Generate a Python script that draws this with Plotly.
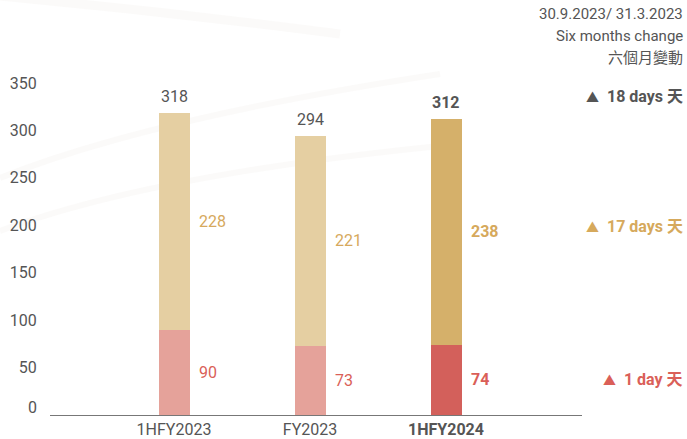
import plotly.graph_objects as go

# Days by period: lower segment, upper segment and the stacked total
periods = ["1HFY2023", "FY2023", "1HFY2024"]
lower_days = [90, 73, 74]
upper_days = [228, 221, 238]
total_days = [318, 294, 312]

# Six-month change versus 31.3.2023
change_labels = ["18 days 天", "17 days 天", "1 day 天"]
y_ticks = [50, 100, 150, 200, 250, 300, 350]
header_lines = ["30.9.2023/ 31.3.2023", "Six months change", "六個月變動"]

FONT = "Roboto, 'Noto Sans CJK TC', sans-serif"
GREY = "#555555"
GOLD_TXT = "#D6A95C"
RED_TXT = "#DA5F58"

lower_colors = ["#E5A29A", "#E5A29A", "#D3605B"]
upper_colors = ["#E5CFA2", "#E5CFA2", "#D5B06A"]
bold_last = [False, False, True]

W, H = 687, 439
L, R, T, B = 50, 105, 83, 24
PW, PH = W - L - R, H - T - B
FS = 16


def px(x):
    return (x - L) / PW


def py(y):
    return (H - B - y) / PH


fig = go.Figure()
fig.add_trace(go.Bar(x=periods, y=lower_days, marker=dict(color=lower_colors, line_width=0),
                     width=0.228, hoverinfo="skip"))
fig.add_trace(go.Bar(x=periods, y=upper_days, marker=dict(color=upper_colors, line_width=0),
                     width=0.228, hoverinfo="skip"))

ann = []


def wrap(t, b):
    return f"<b>{t}</b>" if b else t


for i, p in enumerate(periods):
    b = bold_last[i]
    ann.append(dict(x=p, y=total_days[i], xref="x", yref="y", text=wrap(total_days[i], b),
                    showarrow=False, yanchor="bottom", yshift=5,
                    font=dict(family=FONT, size=FS, color=GREY)))
    ann.append(dict(x=p, y=lower_days[i] + upper_days[i] / 2, xref="x", yref="y",
                    text=wrap(upper_days[i], b), showarrow=False, xanchor="left", xshift=23,
                    font=dict(family=FONT, size=FS, color=GOLD_TXT)))
    ann.append(dict(x=p, y=lower_days[i] / 2, xref="x", yref="y",
                    text=wrap(lower_days[i], b), showarrow=False, xanchor="left", xshift=23,
                    font=dict(family=FONT, size=FS, color=RED_TXT)))

# zero tick label, lifted off the axis line
ann.append(dict(x=0, y=0, xref="paper", yref="y", text="0", showarrow=False,
                xanchor="right", xshift=-11, yshift=8,
                font=dict(family=FONT, size=FS, color=GREY)))

# header block, right aligned
for txt, yy in zip(header_lines, [14, 36, 58]):
    ann.append(dict(x=px(685), y=py(yy), xref="paper", yref="paper", text=txt,
                    showarrow=False, xanchor="right", yanchor="middle",
                    font=dict(family=FONT, size=15, color=GREY)))

# change markers
for txt, yy, col in zip(change_labels, [96, 227, 379], [GREY, GOLD_TXT, RED_TXT]):
    ann.append(dict(x=px(685), y=py(yy), xref="paper", yref="paper",
                    text=f"<span style='font-size:13px'>▲</span>  <b>{txt}</b>",
                    showarrow=False, xanchor="right", yanchor="middle",
                    font=dict(family=FONT, size=FS, color=col)))


# faint decorative swooshes in the background
def path(points):
    (x0, y0), (cx, cy), (x1, y1) = points
    return f"M {px(x0)},{py(y0)} Q {px(cx)},{py(cy)} {px(x1)},{py(y1)}"


SWOOSH = "rgba(235,232,226,0.22)"
shapes = [
    dict(type="path", xref="paper", yref="paper", layer="below",
         path=path([(0, -4), (170, 12), (340, 34)]),
         line=dict(color=SWOOSH, width=9)),
    dict(type="path", xref="paper", yref="paper", layer="below",
         path=path([(0, 178), (150, 118), (440, 74)]),
         line=dict(color=SWOOSH, width=6)),
    dict(type="path", xref="paper", yref="paper", layer="below",
         path=path([(0, 231), (150, 175), (440, 146)]),
         line=dict(color=SWOOSH, width=6)),
]

fig.update_layout(
    width=W, height=H, barmode="stack", showlegend=False,
    margin=dict(l=L, r=R, t=T, b=B),
    paper_bgcolor="white", plot_bgcolor="rgba(0,0,0,0)",
    font=dict(family=FONT, size=FS, color=GREY),
    annotations=ann, shapes=shapes,
    xaxis=dict(range=[-0.912, 3.0], tickmode="array", tickvals=periods,
               ticktext=[wrap(p, b) for p, b in zip(periods, bold_last)],
               showline=True, linecolor="#777777", linewidth=1.2,
               showgrid=False, zeroline=False, ticks="", fixedrange=True,
               automargin=False, ticklabelstandoff=0,
               tickfont=dict(family=FONT, size=FS, color=GREY)),
    yaxis=dict(range=[0, 350], tickmode="array", tickvals=y_ticks,
               showgrid=False, zeroline=False, showline=False, automargin=False,
               ticks="outside", ticklen=9, tickcolor="rgba(0,0,0,0)",
               tickfont=dict(family=FONT, size=FS, color=GREY), fixedrange=True),
)

fig.write_html("out.html", config={"displayModeBar": False})
